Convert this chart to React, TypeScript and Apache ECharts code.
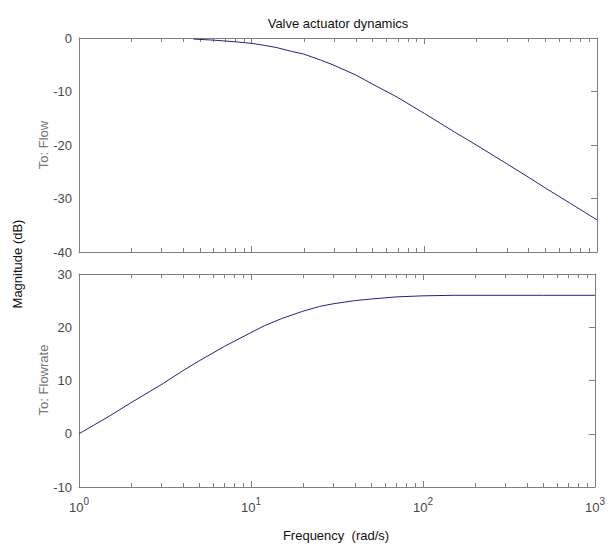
import React, { useEffect, useRef } from "react";
import * as echarts from "echarts";

// Top panel: To: Flow (frequency rad/s, magnitude dB)
const flowFreq = [4.6, 6, 8, 10, 12, 14, 17, 20, 25, 30, 40, 50, 70, 100, 150, 200, 300, 400, 500, 700, 1000];
const flowMag = [-0.2, -0.4, -0.7, -1.0, -1.4, -1.8, -2.5, -3.0, -4.1, -5.1, -6.9, -8.6, -11.1, -14.1, -17.6, -20.0, -23.5, -26.0, -28.0, -30.9, -34.0];

// Bottom panel: To: Flowrate
const rateFreq = [1, 1.5, 2, 3, 4, 5, 7, 10, 12, 15, 20, 25, 30, 40, 50, 70, 100, 150, 200, 500, 1000];
const rateMag = [0, 3.3, 5.8, 9.2, 11.8, 13.7, 16.4, 19.0, 20.3, 21.6, 23.0, 23.9, 24.4, 25.0, 25.3, 25.7, 25.9, 26.0, 26.0, 26.0, 26.0];

const minorTicks = [2, 3, 4, 5, 6, 7, 8, 9, 20, 30, 40, 50, 60, 70, 80, 90, 200, 300, 400, 500, 600, 700, 800, 900];

const titleText = "Valve actuator dynamics";
const yTitle = "Magnitude (dB)";
const xTitle = "Frequency  (rad/s)";
const topLabel = "To: Flow";
const bottomLabel = "To: Flowrate";

const FONT = "'Liberation Sans', Arial, sans-serif";
const AXIS = "#808080";
const TICKTXT = "#484848";
const LINE = "#24247e";

export default function App() {
  const ref = useRef<HTMLDivElement>(null);
  useEffect(() => {
    if (!ref.current) return;
    const chart = echarts.init(ref.current, null, { renderer: "svg" });

    const axisLine = { show: true, onZero: false, lineStyle: { color: AXIS, width: 1 } };
    const xBase = (grid: number, pos: "bottom" | "top", labels: boolean) => ({
      type: "log",
      logBase: 10,
      gridIndex: grid,
      position: pos,
      min: 1,
      max: 1000,
      axisLine,
      axisTick: { show: true, inside: true, length: 6, lineStyle: { color: AXIS } },
      splitLine: { show: false },
      axisLabel: labels
        ? {
            show: true,
            margin: 9,
            formatter: (v: number) => "{b|10}{s|" + Math.round(Math.log10(v)) + "}",
            rich: {
              b: { fontSize: 13, fontFamily: FONT, color: TICKTXT, lineHeight: 18, verticalAlign: "bottom" },
              s: { fontSize: 10, fontFamily: FONT, color: TICKTXT, lineHeight: 10, verticalAlign: "top" },
            },
          }
        : { show: false },
    });
    const yBase = (grid: number, pos: "left" | "right", min: number, max: number, labels: boolean) => ({
      type: "value",
      gridIndex: grid,
      position: pos,
      min,
      max,
      interval: 10,
      axisLine,
      axisTick: { show: pos === "right", inside: true, length: 6, lineStyle: { color: AXIS } },
      splitLine: { show: false },
      axisLabel: labels
        ? { show: true, margin: 7, fontSize: 13, fontFamily: FONT, color: TICKTXT }
        : { show: false },
    });

    const minorSeries = (xi: number, yi: number, yv: number) => ({
      type: "custom",
      xAxisIndex: xi,
      yAxisIndex: yi,
      silent: true,
      clip: false,
      data: minorTicks.map((f) => [f, yv]),
      renderItem: (params: any, api: any) => {
        const x = Math.round(api.coord([api.value(0), yv])[0]) + 0.5;
        const cs = params.coordSys;
        const b = cs.y + cs.height;
        const style = { stroke: AXIS, lineWidth: 1 };
        return {
          type: "group",
          children: [
            { type: "line", shape: { x1: x, y1: b, x2: x, y2: b - 4 }, style },
            { type: "line", shape: { x1: x, y1: cs.y, x2: x, y2: cs.y + 4 }, style },
          ],
        };
      },
    });

    chart.setOption({
      animation: false,
      backgroundColor: "#ffffff",
      grid: [
        { left: 79, top: 38, width: 518, height: 214, show: false },
        { left: 79, top: 274, width: 518, height: 213, show: false },
      ],
      xAxis: [xBase(0, "bottom", false), xBase(0, "top", false), xBase(1, "bottom", true), xBase(1, "top", false)],
      yAxis: [
        yBase(0, "left", -40, 0, true),
        yBase(0, "right", -40, 0, false),
        yBase(1, "left", -10, 30, true),
        yBase(1, "right", -10, 30, false),
      ],
      series: [
        minorSeries(0, 0, -20),
        minorSeries(2, 2, 10),
        {
          type: "line",
          xAxisIndex: 0,
          yAxisIndex: 0,
          data: flowFreq.map((f, i) => [f, flowMag[i]]),
          showSymbol: false,
          symbol: "none",
          lineStyle: { color: LINE, width: 1 },
        },
        {
          type: "line",
          xAxisIndex: 2,
          yAxisIndex: 2,
          data: rateFreq.map((f, i) => [f, rateMag[i]]),
          showSymbol: false,
          symbol: "none",
          lineStyle: { color: LINE, width: 1 },
        },
      ],
      graphic: [
        {
          type: "text",
          x: 338,
          y: 23,
          style: { text: titleText, fontSize: 13, fontFamily: FONT, fill: "#111", align: "center", verticalAlign: "middle" },
        },
        {
          type: "text",
          x: 336,
          y: 535,
          style: { text: xTitle, fontSize: 13, fontFamily: FONT, fill: "#111", align: "center", verticalAlign: "middle" },
        },
        {
          type: "text",
          x: 17,
          y: 264,
          rotation: Math.PI / 2,
          style: { text: yTitle, fontSize: 13, fontFamily: FONT, fill: "#111", align: "center", verticalAlign: "middle" },
        },
        {
          type: "text",
          x: 43,
          y: 145,
          rotation: Math.PI / 2,
          style: { text: topLabel, fontSize: 13, fontFamily: FONT, fill: "#777", align: "center", verticalAlign: "middle" },
        },
        {
          type: "text",
          x: 43,
          y: 380,
          rotation: Math.PI / 2,
          style: { text: bottomLabel, fontSize: 13, fontFamily: FONT, fill: "#777", align: "center", verticalAlign: "middle" },
        },
      ],
    });
    return () => chart.dispose();
  }, []);
  return <div ref={ref} style={{ position: "absolute", left: 0, top: 0, width: 608, height: 544 }} />;
}
